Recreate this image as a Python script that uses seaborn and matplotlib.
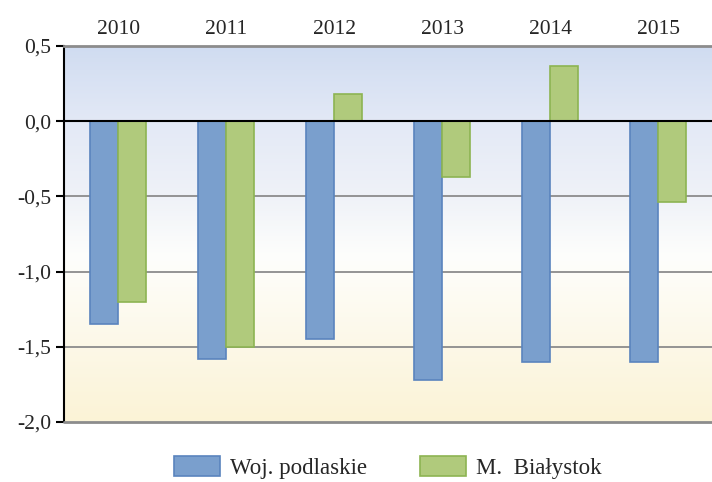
import numpy as np
import pandas as pd
import seaborn as sns
from matplotlib import pyplot as plt
from matplotlib.colors import to_rgb
from matplotlib.patches import Patch

# dane
years = ["2010", "2011", "2012", "2013", "2014", "2015"]
woj_podlaskie = [-1.35, -1.58, -1.45, -1.72, -1.60, -1.60]
m_bialystok = [-1.20, -1.50, 0.18, -0.37, 0.37, -0.54]
series = ["Woj. podlaskie", "M.  Białystok"]

df = pd.DataFrame({
    "rok": years * 2,
    "wartosc": woj_podlaskie + m_bialystok,
    "seria": [series[0]] * len(years) + [series[1]] * len(years),
})

sns.set_style("white")
plt.rcParams['font.family'] = ['Liberation Serif', 'DejaVu Serif']

fig = plt.figure(figsize=(7.12, 4.82), dpi=100)
ax = fig.add_axes([0.09, 0.1245, 0.91, 0.78])

fills = ["#7A9FCD", "#B0CA7C"]
edges = ["#5A84BE", "#8DB452"]

sns.barplot(data=df, x="rok", y="wartosc", hue="seria", palette=fills,
            width=0.52, gap=0, saturation=1, ax=ax, zorder=3, legend=False)

for bar_group, ec in zip(ax.containers, edges):
    for b in bar_group:
        b.set_edgecolor(ec)
        b.set_linewidth(1.2)

ax.set_xlim(-0.5, 5.5)
ax.set_ylim(-2.0, 0.5)

# tło z gradientem
stops_y = [0.5, 0.0, -0.5, -0.9, -2.0]
stops_c = ["#D0DCF1", "#E3E9F6", "#EFF2F8", "#FEFEFC", "#FBF3D6"]
ys = np.linspace(0.5, -2.0, 300)
rgb = np.array([to_rgb(c) for c in stops_c])
grad = np.stack([np.interp(-ys, [-v for v in stops_y], rgb[:, k]) for k in range(3)], axis=-1)
ax.imshow(grad[:, None, :], extent=[-0.5, 5.5, -2.0, 0.5], aspect="auto", zorder=0)

for yv in [-0.5, -1.0, -1.5]:
    ax.axhline(yv, color="#8C8C8C", lw=1.3, zorder=1)
ax.axhline(-2.0, color="#8C8C8C", lw=2.0, zorder=4, clip_on=False)
ax.axhline(0.0, color="black", lw=1.5, zorder=4)

ax.set_yticks([0.5, 0.0, -0.5, -1.0, -1.5, -2.0])
ax.set_yticklabels(["0,5", "0,0", "-0,5", "-1,0", "-1,5", "-2,0"])
ax.xaxis.tick_top()
ax.tick_params(axis="x", length=0, labelsize=15.5, pad=5)
ax.tick_params(axis="y", left=True, length=6, width=1.5, color="black", labelsize=15.5, pad=3)
ax.set_xlabel("")
ax.set_ylabel("")

for s in ["right", "bottom"]:
    ax.spines[s].set_visible(False)
ax.spines["top"].set_color("#8C8C8C")
ax.spines["top"].set_linewidth(2)
ax.spines["left"].set_color("black")
ax.spines["left"].set_linewidth(1.5)

handles = [Patch(facecolor=f, edgecolor=e, linewidth=1.2) for f, e in zip(fills, edges)]
fig.legend(handles, series, loc="center", bbox_to_anchor=(0.545, 0.03), ncol=2,
           frameon=False, fontsize=16.5, handlelength=2.0, handleheight=0.95,
           columnspacing=2.3, handletextpad=0.45, borderpad=0.2)

plt.savefig("out.png", dpi=100)
